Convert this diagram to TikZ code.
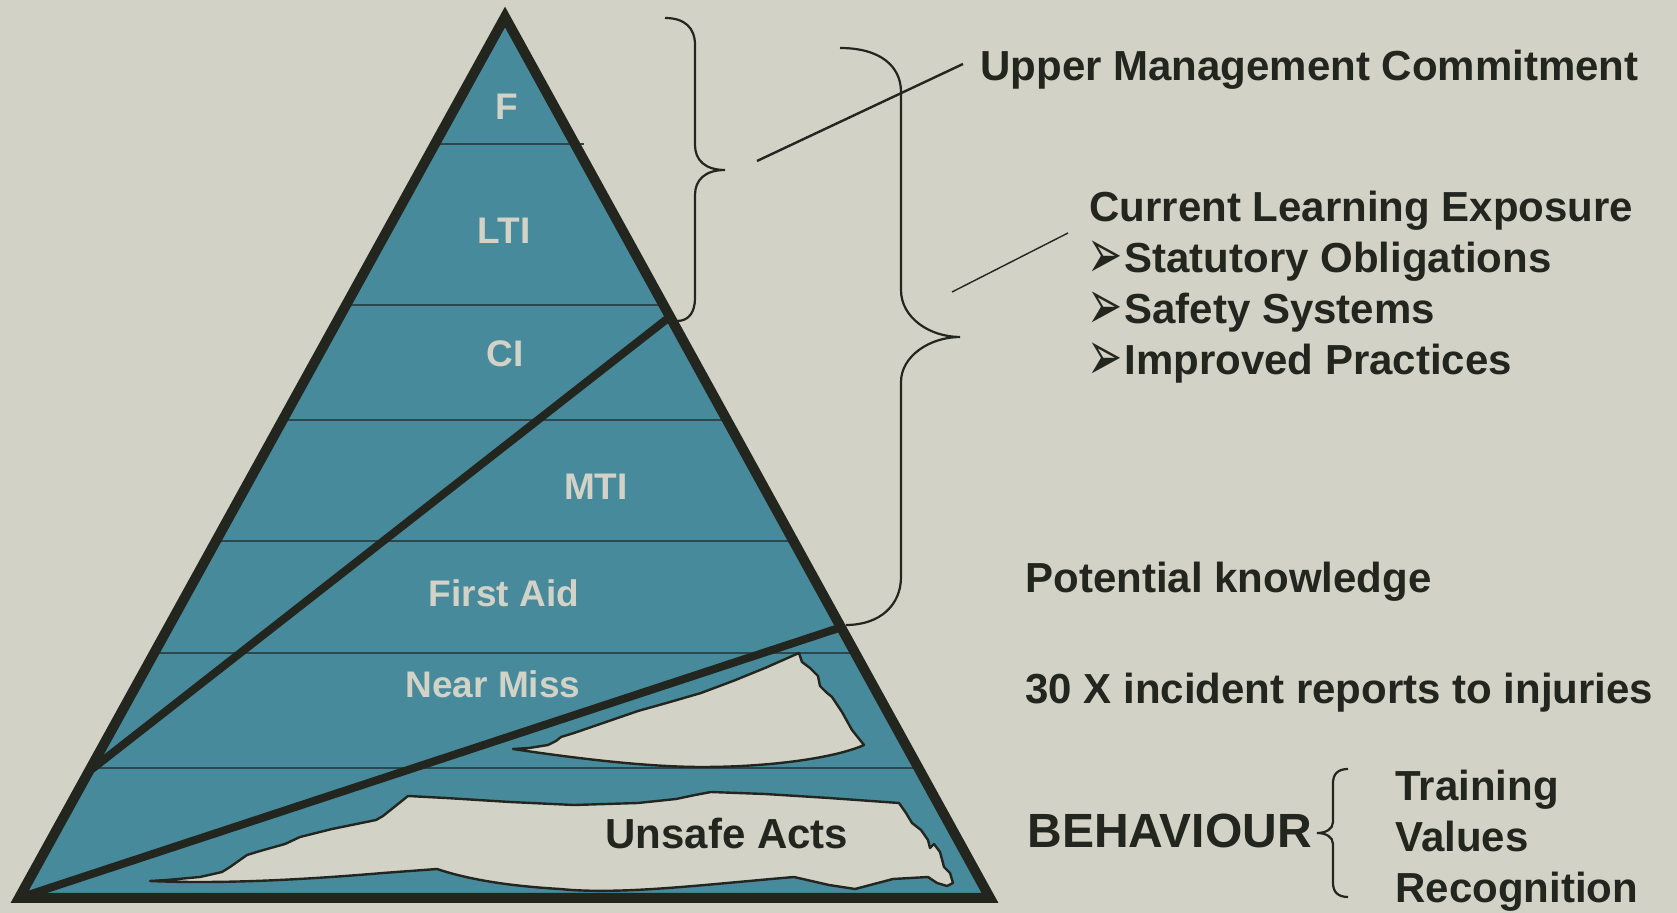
\documentclass[tikz,border=0pt]{standalone}
\usepackage{fontspec}
\setmainfont{Liberation Sans}
\newfontfamily\symfont{DejaVu Sans}
\usetikzlibrary{positioning}
\definecolor{paper}{RGB}{210, 210, 198}
\definecolor{ink}{RGB}{35, 38, 30}
\definecolor{pyramidfill}{RGB}{71, 138, 156}
\definecolor{bandline}{RGB}{44, 72, 78}
\newcommand{\arrowbullet}{\makebox[16.5pt][l]{\hspace{-2pt}\smash{\raisebox{-2.7pt}{\scalebox{0.7}[1.18]{\symfont\fontsize{30}{30}\selectfont ➢}}}}}

\begin{document}
\begin{tikzpicture}[
    x=0.5pt, y=-0.5pt,
    outline/.style={draw=ink, line width=5pt},
    cut/.style={draw=ink, line width=4pt},
    band/.style={draw=bandline, line width=1pt},
    hole/.style={fill=paper, draw=ink, line width=1.2pt, line join=round},
    brace/.style={draw=ink, line width=1.1pt},
    pointer/.style={draw=ink, line width=1.2pt},
    level/.style={text=paper, font=\fontsize{18.5}{22}\selectfont\bfseries, inner sep=0pt, anchor=base},
    note/.style={text=ink, font=\fontsize{21}{25}\selectfont\bfseries, inner sep=0pt, anchor=base west}
]
    % Canvas
    \fill[paper] (0,0) rectangle (1677,913);
    \useasboundingbox (0,0) rectangle (1677,913);

    % Pyramid
    \coordinate (top) at (505,17);
    \coordinate (left) at (19,898);
    \coordinate (right) at (990,898);
    \fill[pyramidfill] (top) -- (left) -- (right) -- cycle;

    % Bands
    \begin{scope}
        \clip (top) -- (left) -- (right) -- cycle;
        \foreach \y in {305,420,541,653,768}
            \draw[band] (0,\y) -- (1000,\y);
    \end{scope}
    \draw[band] (432,144) -- (584,144);

    % Cut-outs
    \draw[hole] (513,749) -- (529,748) -- (548,745) -- (556,741) -- (561,737) -- (574,733)
        -- (606,722) -- (638,711) -- (670,702) -- (701,693) -- (733,681) -- (765,668) -- (799,653)
        -- (802,662) -- (810,668) -- (818,676) -- (820,686) -- (826,692) -- (832,697)
        -- (842,712) -- (852,730) -- (864,745)
        .. controls (835,758) and (770,767) .. (702,767)
        .. controls (640,767) and (560,756) .. (513,749) -- cycle;
    \draw[hole] (150,881) -- (167,880) -- (200,877) -- (222,872) -- (230,867) -- (247,855)
        -- (260,851) -- (285,844) -- (300,837) -- (332,829) -- (376,820) -- (383,816) -- (408,796)
        -- (446,798) -- (510,802) -- (574,805) -- (638,803) -- (676,799) -- (695,795) -- (711,792)
        -- (765,794) -- (829,798) -- (899,803)
        -- (906,813) -- (912,823) -- (921,830) -- (928,840) -- (930,848) -- (934,844) -- (940,852)
        -- (944,867) -- (950,873) -- (953,883) -- (947,886) -- (937,883) -- (928,877)
        -- (893,879) -- (855,889) -- (829,885) -- (794,877)
        .. controls (700,885) and (620,895) .. (560,889)
        .. controls (510,886) and (470,880) .. (437,869)
        -- (383,873) .. controls (300,880) and (220,884) .. (150,881) -- cycle;

    % Diagonals
    \coordinate (kneeA) at (667,319);
    \coordinate (footA) at (92,769);
    \coordinate (kneeB) at (842,627);
    \draw[cut] (kneeA) -- (footA);
    \draw[cut] (kneeB) -- (left);

    \draw[outline] (top) -- (left) -- (right) -- cycle;

    % Levels
    \node[level] (fatal) at (507,120) {F};
    \node[level] (lti) at (504,244) {LTI};
    \node[level] (ci) at (505,367) {CI};
    \node[level] (mti) at (596,500) {MTI};
    \node[level] (firstaid) at (504,607) {First Aid};
    \node[level] (nearmiss) at (493,698) {Near Miss};
    \node[note] (unsafe) at (605,849) {Unsafe Acts};

    % Braces
    \draw[brace] (665,18) .. controls (685,18) and (695,28) .. (695,45) -- (695,145)
        .. controls (695,160) and (705,170) .. (725,170)
        .. controls (705,170) and (695,180) .. (695,195) -- (695,298)
        .. controls (695,312) and (689,321) .. (677,321);
    \draw[brace] (840,48) .. controls (880,48) and (901,66) .. (901,92) -- (901,290)
        .. controls (901,318) and (930,337) .. (960,337)
        .. controls (930,337) and (901,356) .. (901,382) -- (901,577)
        .. controls (901,605) and (880,625) .. (846,625);

    % Notes
    \node[note] (umc) at (980,81) {Upper Management Commitment};
    \node[note] (cle) at (1089,222) {Current Learning Exposure};
    \node[note] (statutory) at (1091,273) {\arrowbullet Statutory Obligations};
    \node[note, below=25.5pt of statutory.base west, anchor=base west] (systems) {\arrowbullet Safety Systems};
    \node[note, below=25.5pt of systems.base west, anchor=base west] (practices) {\arrowbullet Improved Practices};
    \node[note] (potential) at (1025,593) {Potential knowledge};
    \node[note] (reports) at (1025,704) {30 X incident reports to injuries};
    \node[note, font=\fontsize{24}{28}\selectfont\bfseries] (behaviour) at (1027,848) {BEHAVIOUR};
    \node[note] (training) at (1395,801) {Training};
    \node[note, below=25.5pt of training.base west, anchor=base west] (values) {Values};
    \node[note, below=25.5pt of values.base west, anchor=base west] (recognition) {Recognition};

    % Pointers
    \coordinate (umcTip) at (963,64);
    \coordinate (umcTail) at (757,161);
    \coordinate (cleTip) at (1068,233);
    \coordinate (cleTail) at (952,292);
    \draw[pointer] (umcTip) -- (umcTail);
    \draw[pointer, line width=0.7pt] (cleTip) -- (cleTail);

    \draw[brace] (1348,769) .. controls (1338,769) and (1333,774) .. (1333,783) -- (1333,822)
        .. controls (1333,829) and (1326,833) .. (1317,833)
        .. controls (1326,833) and (1333,837) .. (1333,844) -- (1333,883)
        .. controls (1333,892) and (1338,897) .. (1348,897);
\end{tikzpicture}
\end{document}
